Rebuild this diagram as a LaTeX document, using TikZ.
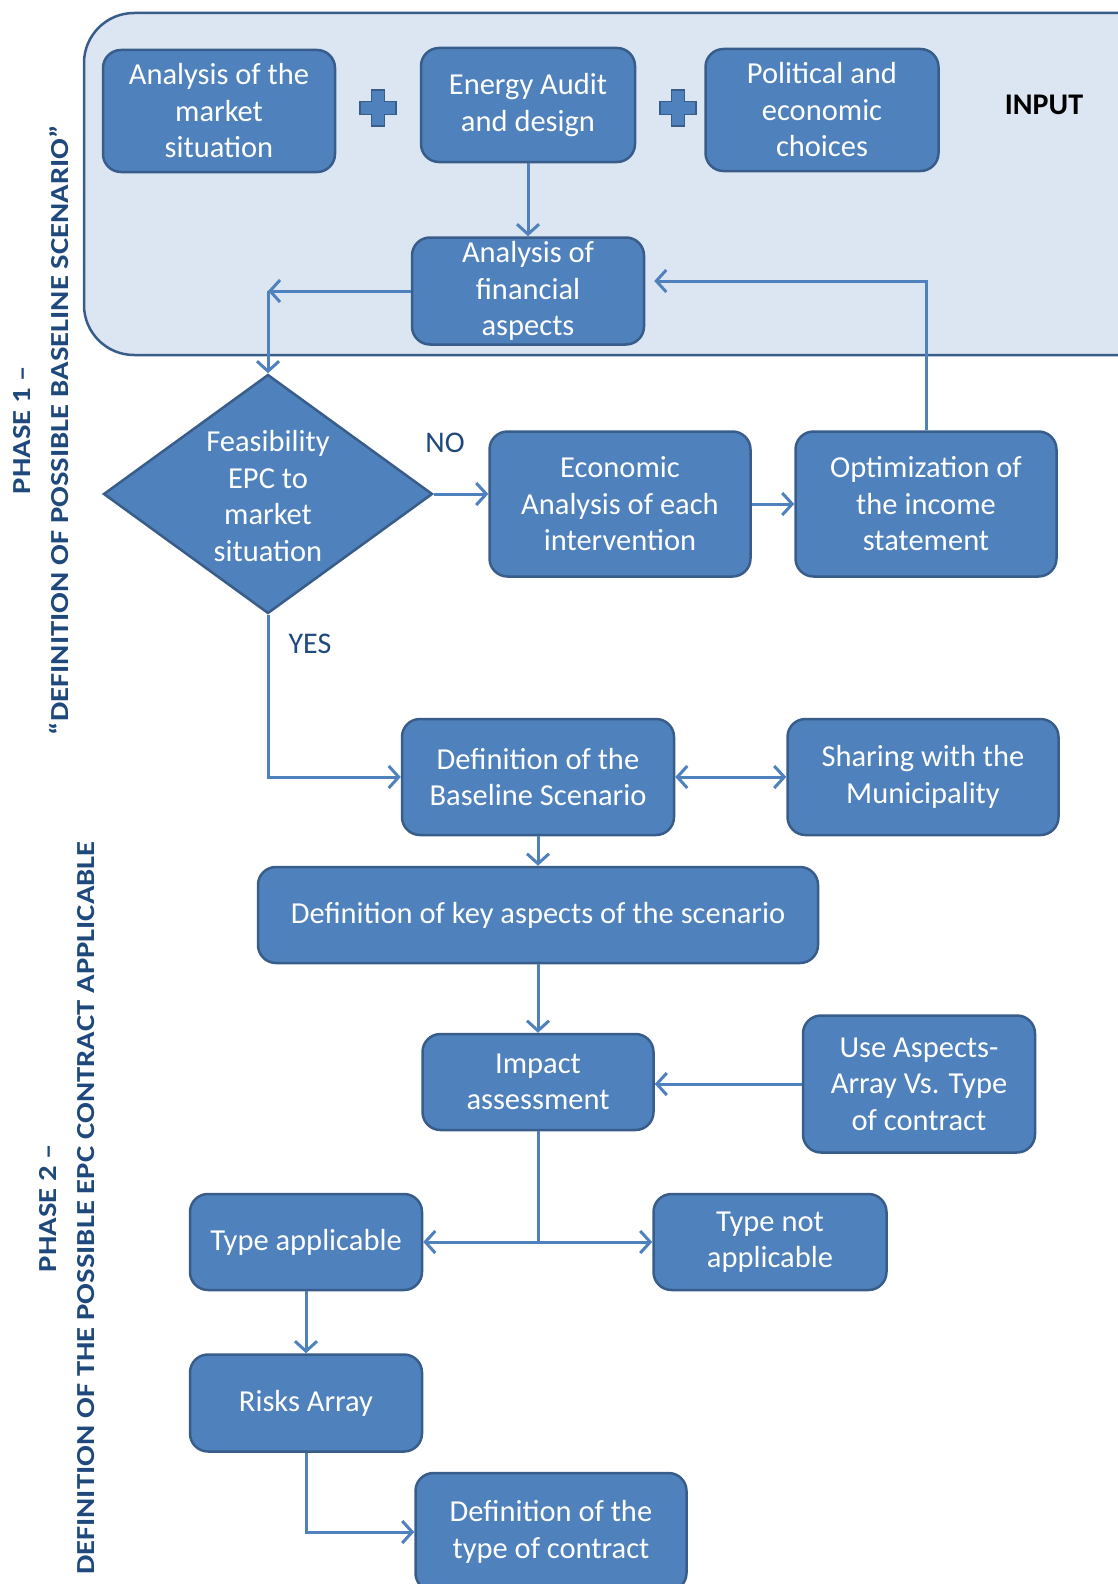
\documentclass[tikz,border=0pt]{standalone}
\usepackage{fontspec}
\usepackage{graphicx}
\setmainfont{Carlito}
\usetikzlibrary{arrows.meta,shapes.geometric}
\definecolor{boxblue}{RGB}{79,129,189}
\definecolor{boxedge}{RGB}{56,93,138}
\definecolor{inputfill}{RGB}{220,230,242}
\definecolor{phase}{RGB}{31,73,125}
\newcommand{\boxfont}{\fontsize{30.5}{36.5}\selectfont}
\newcommand{\wide}[1]{\scalebox{1.18}[1]{#1}}
\newcommand{\addsign}[2]{\draw[boxedge, fill=boxblue, line width=1.5pt, shift={(#1,#2)}]
    (-6.5,-18) -- (6.5,-18) -- (6.5,-6.5) -- (18,-6.5) -- (18,6.5) -- (6.5,6.5) -- (6.5,18)
    -- (-6.5,18) -- (-6.5,6.5) -- (-18,6.5) -- (-18,-6.5) -- (-6.5,-6.5) -- cycle;}
\tikzset{
  blk/.style={draw=boxedge, fill=boxblue, line width=2.5pt, rounded corners=18pt, text=white,
              align=center, font=\boxfont, inner sep=0pt},
  dia/.style={diamond, draw=boxedge, fill=boxblue, line width=2.5pt, inner sep=0pt,
              minimum width=329pt, minimum height=239pt},
  arr/.style={draw=boxblue, line width=3pt, -{Straight Barb[length=10pt,width=22pt]}},
  lbl/.style={text=phase, font=\fontsize{30}{34}\selectfont},
  phaselbl/.style={rotate=90, align=center, text=phase, font=\bfseries\fontsize{26}{38}\selectfont}
}
\begin{document}
\begin{tikzpicture}[x=1pt, y=-1pt]
	\useasboundingbox (0,0) rectangle (1118,1584);
	\draw[boxedge, fill=inputfill, line width=2.5pt, rounded corners=50pt] (84,13) rectangle (1170,355);
	\node[blk, minimum width=232pt, minimum height=122pt] (market) at (219,111) {Analysis of the\\market\\situation};
	\node[blk, minimum width=214pt, minimum height=114pt] (audit) at (528,105) {Energy Audit\\and design};
	\node[blk, minimum width=233pt, minimum height=122pt] (choices) at (822,110) {Political and\\economic\\choices};
	\addsign{378}{108}
	\addsign{678}{108}
	\node[font=\bfseries\fontsize{30}{34}\selectfont] (input) at (1044,105) {INPUT};
	\node[blk, minimum width=232pt, minimum height=107pt] (fin) at (528,291) {Analysis of\\financial\\aspects};
	\node[dia] (feas) at (268,494) {};
	\node[text=white, align=center, font=\boxfont] (feastext) at (268,496) {Feasibility\\EPC to\\market\\situation};
	\node[blk, minimum width=261pt, minimum height=145pt] (econ) at (620,504) {Economic\\Analysis of each\\intervention};
	\node[blk, minimum width=261pt, minimum height=145pt] (opt) at (926,504) {Optimization of\\the income\\statement};
	\node[blk, minimum width=272pt, minimum height=116pt] (base) at (538,777) {Definition of the\\Baseline Scenario};
	\node[blk, minimum width=271pt, minimum height=116pt] (share) at (923,777) {Sharing with the\\Municipality};
	\node[blk, minimum width=560pt, minimum height=96pt] (key) at (538,915) {Definition of key aspects of the scenario};
	\node[blk, minimum width=231pt, minimum height=96pt] (impact) at (538,1082) {Impact\\assessment};
	\node[blk, minimum width=232pt, minimum height=137pt] (use) at (919,1084) {Use Aspects-\\Array Vs. Type\\of contract};
	\node[blk, minimum width=232pt, minimum height=96pt] (appl) at (306,1242) {Type applicable};
	\node[blk, minimum width=233pt, minimum height=96pt] (notappl) at (770,1242) {Type not\\applicable};
	\node[blk, minimum width=232pt, minimum height=97pt] (risks) at (306,1403) {Risks Array};
	\node[blk, minimum width=271pt, minimum height=118pt] (contract) at (551,1532) {Definition of the\\type of contract};
	\node[lbl] (no) at (445,443) {NO};
	\node[lbl] (yes) at (310,644) {YES};
	\node[phaselbl] (phase1) at (41,430) {\wide{PHASE 1 –}\\\wide{“DEFINITION OF POSSIBLE BASELINE SCENARIO”}};
	\node[phaselbl] (phase2) at (67,1208) {\wide{PHASE 2 –}\\\wide{DEFINITION OF THE POSSIBLE EPC CONTRACT APPLICABLE}};
	\coordinate (bend) at (fin.west -| feas.north);
	\coordinate (split) at (impact.south |- appl.east);
	\draw[arr] (audit) -- (fin);
	\draw[arr] (fin.west) -- (bend);
	\draw[arr] (bend) -- (feas.north);
	\draw[arr] (feas.east) -- (feas.east -| econ.west);
	\draw[arr] (econ) -- (opt);
	\draw[arr, shorten >=9pt] (opt.north) |- ([yshift=10pt]fin.east);
	\draw[arr] (feas.south) |- (base.west);
	\draw[arr, {Straight Barb[length=10pt,width=22pt]}-{Straight Barb[length=10pt,width=22pt]}] (base) -- (share);
	\draw[arr] (base) -- (key);
	\draw[arr] (key) -- (impact);
	\draw[arr] (use.west) -- (use.west -| impact.east);
	\draw[draw=boxblue, line width=3pt] (impact.south) -- (split);
	\draw[arr] (split) -- (appl.east);
	\draw[arr] (split) -- (notappl.west);
	\draw[arr] (appl) -- (risks);
	\draw[arr] (risks.south) |- (contract.west);
\end{tikzpicture}
\end{document}
